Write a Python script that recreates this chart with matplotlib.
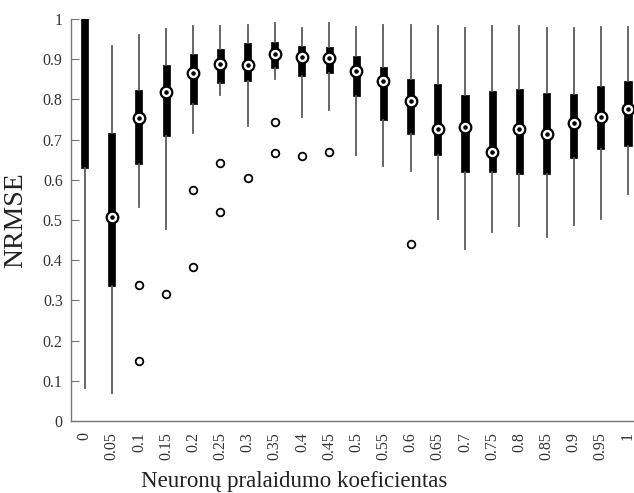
import matplotlib
matplotlib.use("Agg")
import matplotlib.pyplot as plt
import numpy as np

categories = ["0", "0.05", "0.1", "0.15", "0.2", "0.25", "0.3", "0.35", "0.4", "0.45", "0.5",
              "0.55", "0.6", "0.65", "0.7", "0.75", "0.8", "0.85", "0.9", "0.95", "1"]
whisker_low = [0.082, 0.070, 0.532, 0.478, 0.717, 0.812, 0.734, 0.851, 0.756, 0.773, 0.662,
               0.635, 0.622, 0.502, 0.428, 0.470, 0.485, 0.458, 0.488, 0.502, 0.565]
q1 = [0.629, 0.336, 0.639, 0.709, 0.789, 0.840, 0.847, 0.878, 0.858, 0.866, 0.809,
      0.749, 0.715, 0.662, 0.620, 0.619, 0.614, 0.614, 0.655, 0.676, 0.684]
median = [1.100, 0.507, 0.754, 0.818, 0.866, 0.888, 0.885, 0.913, 0.905, 0.903, 0.871,
          0.846, 0.796, 0.726, 0.731, 0.669, 0.726, 0.714, 0.741, 0.756, 0.776]
q3 = [1.300, 0.716, 0.823, 0.886, 0.913, 0.925, 0.940, 0.943, 0.933, 0.930, 0.908,
      0.881, 0.851, 0.838, 0.811, 0.821, 0.826, 0.816, 0.813, 0.833, 0.846]
whisker_high = [1.500, 0.934, 0.960, 0.975, 0.983, 0.983, 0.985, 0.990, 0.978, 0.990, 0.980,
                0.985, 0.985, 0.983, 0.978, 0.983, 0.983, 0.978, 0.978, 0.980, 0.980]
outliers = [[], [], [0.338, 0.149], [0.316], [0.574, 0.383], [0.641, 0.520], [0.605],
            [0.745, 0.667], [0.659], [0.669], [], [], [0.440], [], [], [], [], [], [], [], []]

plt.rcParams['font.family'] = ['Liberation Serif', 'DejaVu Serif']

fig = plt.figure(figsize=(6.34, 4.93), dpi=100)
ax = fig.add_axes([71/634, 72/493, 570.6/634, 402/493])

stats = []
for i in range(len(categories)):
    stats.append(dict(med=median[i], q1=q1[i], q3=q3[i], whislo=whisker_low[i],
                      whishi=whisker_high[i], fliers=outliers[i], label=categories[i]))

positions = np.arange(1, len(categories) + 1)
ax.bxp(stats, positions=positions, widths=0.26, patch_artist=True, showcaps=False,
       boxprops=dict(facecolor='black', edgecolor='black', linewidth=0.5),
       whiskerprops=dict(color='#5a5a5a', linewidth=1.3),
       medianprops=dict(linewidth=0),
       flierprops=dict(marker='o', markerfacecolor='white', markeredgecolor='black',
                       markersize=5.5, markeredgewidth=1.3))

ax.scatter(positions, median, s=70, facecolor='white', edgecolor='black', linewidth=1.6, zorder=5, clip_on=True)
ax.scatter(positions, median, s=5, color='black', zorder=6, clip_on=True)

ax.set_xlim(0.5, len(categories) + 0.5)
ax.set_ylim(0, 1)
ax.set_yticks(np.arange(0, 1.01, 0.1))
ax.set_yticklabels(["0", "0.1", "0.2", "0.3", "0.4", "0.5", "0.6", "0.7", "0.8", "0.9", "1"])
ax.set_xticks(positions)
ax.set_xticklabels(categories, rotation=90)

for s in ['top', 'right']:
    ax.spines[s].set_visible(False)
for s in ['left', 'bottom']:
    ax.spines[s].set_color('#777777')
    ax.spines[s].set_linewidth(1.0)

ax.tick_params(axis='y', direction='in', length=6, color='#777777', labelsize=11.5, labelcolor='#333333', pad=6)
ax.tick_params(axis='x', length=0, labelsize=11.5, labelcolor='#333333', pad=8)

ax.set_xlabel("Neuronų pralaidumo koeficientas", fontsize=16.5, color='#222222')
ax.xaxis.set_label_coords((294 - 71) / 570.6, -0.125)
ax.set_ylabel("NRMSE", fontsize=20, color='#222222')
ax.yaxis.set_label_coords(-0.075, 0.5)

fig.savefig("out.png", dpi=100)
